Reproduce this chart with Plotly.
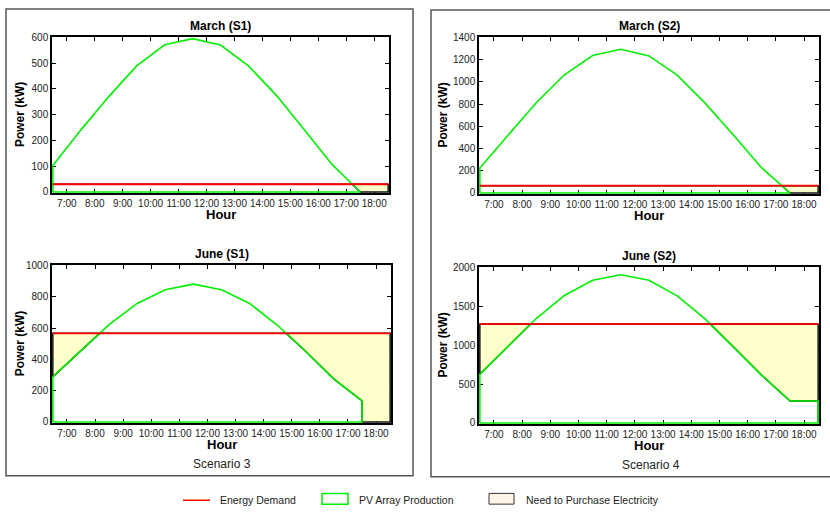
import plotly.graph_objects as go

# ---- data ---------------------------------------------------------------
hours = [6.5, 7.5, 8.5, 9.5, 10.5, 11.5, 12.5, 13.5, 14.5, 15.5, 16.5, 17.5]
hours_ext = hours + [18.5]

march_s1_pv = [103, 240, 370, 489, 571, 595, 570, 489, 375, 241, 106, 0]
march_s2_pv = [225, 520, 812, 1063, 1236, 1292, 1233, 1060, 806, 520, 225, 0]
june_s1_pv = [288, 456, 622, 757, 844, 880, 844, 757, 616, 450, 274, 135]
june_s2_pv = [625, 985, 1342, 1638, 1833, 1904, 1833, 1633, 1333, 975, 612, 283, 283]

march_s1_demand = 30
march_s2_demand = 66
june_s1_demand = 566
june_s2_demand = 1270

tick_hours = list(range(7, 19))
tick_labels = [f"{h}:00" for h in tick_hours]

panel_titles = ["March (S1)", "March (S2)", "June (S1)", "June (S2)"]
scenario_labels = ["Scenario 3", "Scenario 4"]
legend_labels = ["Energy Demand", "PV Array Production", "Need to Purchase Electricity"]

# ---- layout helpers (pixel -> paper) -------------------------------------
W, H = 830, 516
X0, X1 = 6.5, 18.5


def fx(px):
    return px / W


def fy(py):
    return 1 - py / H


GREEN = "#00f000"
RED = "#ff0000"
FILL = "#ffffcc"
FONT = "Liberation Sans, Arial, sans-serif"

panels = [
    # x, y, demand, px box (left, right, top, bottom), ymax, dtick
    dict(x=hours, y=march_s1_pv, d=march_s1_demand, box=(52, 389, 32, 191), ymax=600, dtick=100),
    dict(x=hours, y=march_s2_pv, d=march_s2_demand, box=(479, 819, 32, 192), ymax=1400, dtick=200),
    dict(x=hours, y=june_s1_pv, d=june_s1_demand, box=(52, 391, 265, 426), ymax=1000, dtick=200),
    dict(x=hours_ext, y=june_s2_pv, d=june_s2_demand, box=(479, 819, 267, 427), ymax=2000, dtick=500),
]


def purchase_polygon(xs, ys, demand):
    """Region below the demand line and above PV output."""
    px_, py_ = list(xs), list(ys)
    if py_[-1] != 0:
        px_.append(px_[-1]); py_.append(0)
    if px_[-1] < X1:
        px_.append(X1); py_.append(0)
    lx, ly = [px_[0]], [min(py_[0], demand)]
    for i in range(1, len(px_)):
        xa, ya, xb, yb = px_[i - 1], py_[i - 1], px_[i], py_[i]
        if (ya - demand) * (yb - demand) < 0:
            t = (demand - ya) / (yb - ya)
            lx.append(xa + t * (xb - xa)); ly.append(demand)
        lx.append(xb); ly.append(min(yb, demand))
    return lx + [X1, X0, lx[0]], ly + [demand, demand, ly[0]]


def label(text, x, y, size, color="black", angle=0, xanchor="center", family=FONT):
    return dict(text=text, x=fx(x), y=fy(y), xref="paper", yref="paper", showarrow=False,
                xanchor=xanchor, yanchor="middle", textangle=angle,
                font=dict(family=family, size=size, color=color))


fig = go.Figure()
layout = {}
annotations = []

for i, p in enumerate(panels):
    n = "" if i == 0 else str(i + 1)
    xa, ya = "x" + n, "y" + n
    left, right, top, bottom = p["box"]
    ymax = p["ymax"]

    # purchase area
    fx_, fy_ = purchase_polygon(p["x"], p["y"], p["d"])
    fig.add_trace(go.Scatter(x=fx_, y=fy_, mode="lines", fill="toself", fillcolor=FILL,
                             line=dict(color="#111111", width=1.5), xaxis=xa, yaxis=ya,
                             showlegend=False, hoverinfo="skip"))
    # PV production outline (closed to zero)
    xs, ys = p["x"], p["y"]
    fig.add_trace(go.Scatter(x=[xs[0]] + xs + [xs[-1], xs[0]], y=[0] + ys + [0, 0],
                             mode="lines", line=dict(color=GREEN, width=1.6),
                             xaxis=xa, yaxis=ya, showlegend=False))
    # energy demand
    fig.add_trace(go.Scatter(x=[X0, X1], y=[p["d"], p["d"]], mode="lines",
                             line=dict(color=RED, width=1.8),
                             xaxis=xa, yaxis=ya, showlegend=False))

    common = dict(showgrid=False, zeroline=False, showline=True, linecolor="black",
                  linewidth=1.5, mirror="ticks", ticks="inside", ticklen=4,
                  tickcolor="black", layer="below traces",
                  tickfont=dict(family=FONT, size=10, color="#222222"))
    layout["xaxis" + n] = dict(common, domain=[fx(left), fx(right)], anchor=ya,
                               range=[X0 - 0.03, X1 + 0.03], tickvals=tick_hours,
                               ticktext=tick_labels)
    layout["yaxis" + n] = dict(common, domain=[fy(bottom), fy(top)], anchor=xa,
                               range=[-ymax * 0.006, ymax], dtick=p["dtick"], tick0=0)

    cx = (left + right) / 2
    cy = (top + bottom) / 2
    annotations.append(label(f"<b>{panel_titles[i]}</b>", cx, top - 12, 12))
    annotations.append(label("<b>Hour</b>", cx, bottom + 22, 13))
    annotations.append(label("<b>Power (kW)</b>", 20 if i % 2 == 0 else 443, cy, 12, angle=-90))

# scenario captions
annotations.append(label(scenario_labels[0], 222, 468, 12, "#222222"))
annotations.append(label(scenario_labels[1], 651, 469, 12, "#222222"))

# panel frames and legend keys
shapes = [
    dict(type="rect", xref="paper", yref="paper", x0=fx(6), x1=fx(413), y0=fy(480), y1=fy(3),
         line=dict(color="#555555", width=1.5)),
    dict(type="rect", xref="paper", yref="paper", x0=fx(431), x1=fx(834), y0=fy(481), y1=fy(4),
         line=dict(color="#555555", width=1.5)),
    dict(type="line", xref="paper", yref="paper", x0=fx(183), x1=fx(210), y0=fy(505), y1=fy(505),
         line=dict(color=RED, width=1.5)),
    dict(type="rect", xref="paper", yref="paper", x0=fx(322), x1=fx(348), y0=fy(509), y1=fy(498),
         line=dict(color=GREEN, width=1.5), fillcolor="white"),
    dict(type="rect", xref="paper", yref="paper", x0=fx(489), x1=fx(514), y0=fy(509), y1=fy(498),
         line=dict(color="#333333", width=1), fillcolor="#fff4e6"),
]
for text, x in zip(legend_labels, [218, 357, 524]):
    annotations.append(label(text, x, 505, 10.5, "#222222", xanchor="left"))

fig.update_layout(width=W, height=H, margin=dict(l=0, r=0, t=0, b=0),
                  paper_bgcolor="white", plot_bgcolor="white",
                  annotations=annotations, shapes=shapes, **layout)

fig.write_html("out.html")
